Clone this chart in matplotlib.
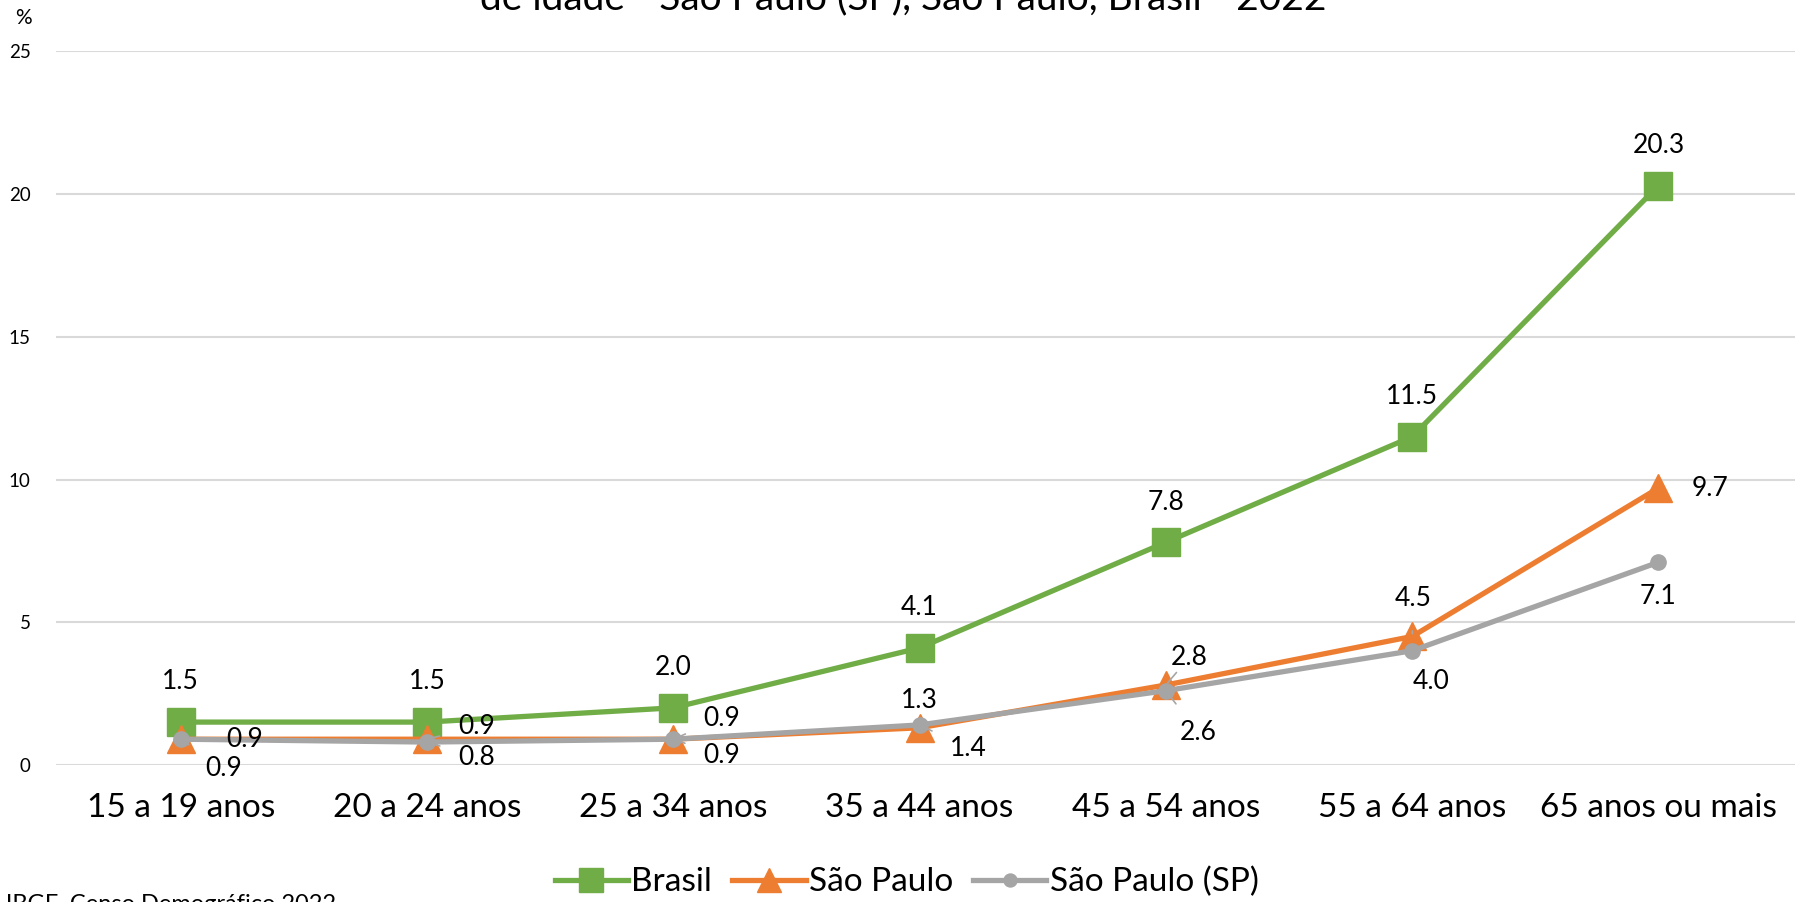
import matplotlib
matplotlib.use("Agg")
import matplotlib.pyplot as plt

plt.rcParams['font.family'] = ['Lato', 'DejaVu Sans']

categories = ['15 a 19 anos', '20 a 24 anos', '25 a 34 anos', '35 a 44 anos',
              '45 a 54 anos', '55 a 64 anos', '65 anos ou mais']
brasil = [1.5, 1.5, 2.0, 4.1, 7.8, 11.5, 20.3]
sao_paulo = [0.9, 0.9, 0.9, 1.3, 2.8, 4.5, 9.7]
sao_paulo_sp = [0.9, 0.8, 0.9, 1.4, 2.6, 4.0, 7.1]
yticks = [0, 5, 10, 15, 20, 25]

GREEN = '#70AD47'
ORANGE = '#ED7D31'
GRAY = '#A5A5A5'

# label offsets (points) and whether a leader line is drawn
sp_offsets = [(46, 0), (36, 9), (35, 15), (0, 20), (17, 20), (1, 27), (37, 0)]
sp_leader = [True, True, True, False, True, True, False]
sps_offsets = [(31, -21), (36, -11), (35, -12), (35, -17), (23, -30), (14, -22), (0, -25)]
sps_leader = [True, True, True, True, True, False, False]

fig = plt.figure(figsize=(17.99, 9.02), dpi=100)
ax = fig.add_axes([0.031, 0.152, 0.967, 0.791])

x = list(range(len(categories)))
ax.plot(x, brasil, color=GREEN, lw=3.8, marker='s', ms=20, label='Brasil', zorder=3, clip_on=False)
ax.plot(x, sao_paulo, color=ORANGE, lw=3.8, marker='^', ms=20, label='São Paulo', zorder=4, clip_on=False)
ax.plot(x, sao_paulo_sp, color=GRAY, lw=3.8, marker='o', ms=11, label='São Paulo (SP)', zorder=5, clip_on=False)

lab_fs = 19
for i, v in enumerate(brasil):
    ax.annotate(f'{v:.1f}', (i, v), xytext=(0, 29), textcoords='offset points',
                ha='center', va='center', fontsize=lab_fs, color='black', zorder=6)

for vals, offs, leads in [(sao_paulo, sp_offsets, sp_leader), (sao_paulo_sp, sps_offsets, sps_leader)]:
    for i, v in enumerate(vals):
        arrow = None
        if leads[i]:
            arrow = dict(arrowstyle='-', color='#A6A6A6', lw=1.2, shrinkA=12, shrinkB=2)
        ax.annotate(f'{v:.1f}', (i, v), xytext=offs[i], textcoords='offset points',
                    ha='center', va='center', fontsize=lab_fs, color='black', zorder=6,
                    arrowprops=arrow)

ax.set_xlim(-0.507, 6.556)
ax.set_ylim(0, 25)
ax.set_xticks(x)
ax.set_xticklabels(categories, fontsize=24)
ax.set_yticks(yticks)
ax.set_yticklabels([str(t) for t in yticks], fontsize=13.5)
ax.tick_params(axis='both', length=0)
ax.tick_params(axis='y', pad=18)
ax.tick_params(axis='x', pad=20)
ax.grid(axis='y', color='#D9D9D9', lw=1.5)
ax.set_axisbelow(True)
for s in ax.spines.values():
    s.set_visible(False)

fig.text(0.013, 0.98, '%', fontsize=15, ha='center', va='center')
fig.text(0.502, 0.990, 'de idade - São Paulo (SP), São Paulo, Brasil - 2022',
         fontsize=28, ha='center', va='baseline')
fig.text(-0.037, -0.003, 'Fonte: IBGE, Censo Demográfico 2022', fontsize=17, ha='left', va='center')

fig.legend(loc='center', bbox_to_anchor=(0.504, 0.022), ncol=3, frameon=False,
           fontsize=24, handlelength=2.2, handletextpad=0.1, columnspacing=0.6,
           markerscale=0.85)

fig.savefig('out.png', dpi=100)
